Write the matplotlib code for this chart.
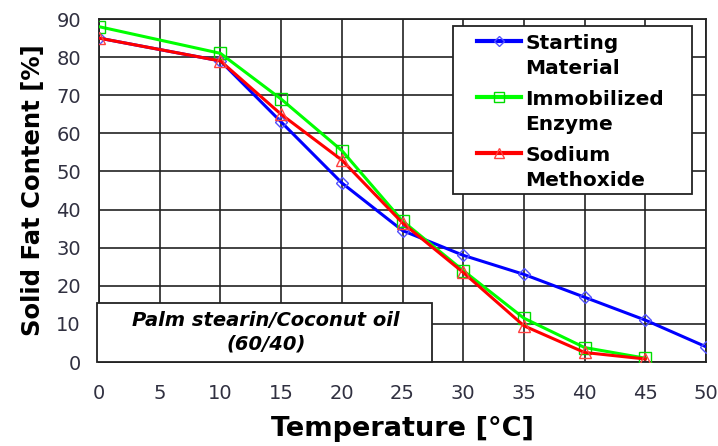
import matplotlib.pyplot as plt
from matplotlib.patches import Rectangle

temps = [0, 10, 15, 20, 25, 30, 35, 40, 45, 50]
starting = [85, 79, 63, 47, 34.5, 28, 23, 17, 11, 4]
temps_short = [0, 10, 15, 20, 25, 30, 35, 40, 45]
enzyme = [88, 81, 69, 55.5, 37, 24, 11.5, 3.8, 1]
methoxide = [85, 79, 65, 53, 36.5, 23.5, 9.5, 2.5, 0.8]

x_ticks = list(range(0, 55, 5))
y_ticks = list(range(0, 100, 10))

fig = plt.figure(figsize=(7.18, 4.46), dpi=100)
ax = fig.add_axes([0.1379, 0.1883, 0.8454, 0.769])

ax.plot(temps, starting, color='#0000ff', marker='D', markersize=6.5, mfc='none',
        mec='#5050ff', linewidth=2.2, label='Starting\nMaterial', zorder=3)
ax.plot(temps_short, enzyme, color='#00ff00', marker='s', markersize=8.5, mfc='none',
        mec='#00dd00', linewidth=2.2, label='Immobilized\nEnzyme', zorder=4)
ax.plot(temps_short, methoxide, color='#ff0000', marker='^', markersize=8.5, mfc='none',
        mec='#ff4040', linewidth=2.2, label='Sodium\nMethoxide', zorder=5)

ax.set_xlim(0, 50)
ax.set_ylim(0, 90)
ax.set_xticks(x_ticks)
ax.set_yticks(y_ticks)
ax.tick_params(axis='x', labelsize=14, length=0, pad=16, labelcolor='#303040')
ax.tick_params(axis='y', labelsize=14, length=0, pad=13, labelcolor='#303040')
ax.grid(True, color='#222222', linewidth=1.2)
for s in ax.spines.values():
    s.set_linewidth(1.3)
    s.set_color('#222222')

ax.set_xlabel('Temperature [°C]', fontsize=19.5, fontweight='bold', labelpad=9)
ax.set_ylabel('Solid Fat Content [%]', fontsize=17.5, fontweight='bold', labelpad=8)

# legend frame drawn separately so the padding can be wider at the sides
frame = Rectangle((0.583, 0.49), 0.394, 0.49, transform=ax.transAxes, facecolor='white',
                  edgecolor='#222222', linewidth=1.3, zorder=6)
ax.add_patch(frame)
leg = ax.legend(loc='upper left', bbox_to_anchor=(0.623, 0.956), borderaxespad=0,
                frameon=False, handlelength=2.2, handletextpad=0.2, labelspacing=0.58,
                borderpad=0, markerscale=0.8, prop={'weight': 'bold', 'size': 14.5})
leg.set_zorder(7)
for t in leg.get_texts():
    t.set_linespacing(1.42)
for h in leg.legend_handles:
    h.set_linewidth(3)
# put each handle next to the first line of its label
for col in leg._legend_handle_box.get_children():
    for item in col.get_children():
        item.align = 'top'

box = Rectangle((-0.15, 0), 27.55, 15.5, transform=ax.transData, facecolor='white',
                edgecolor='#222222', linewidth=1.3, clip_on=False, zorder=6)
ax.add_patch(box)
ax.text(13.75, 7.9, 'Palm stearin/Coconut oil\n(60/40)', ha='center', va='center',
        fontsize=14, fontweight='bold', style='italic', zorder=7, linespacing=1.3)

fig.savefig('out.png', dpi=100)
